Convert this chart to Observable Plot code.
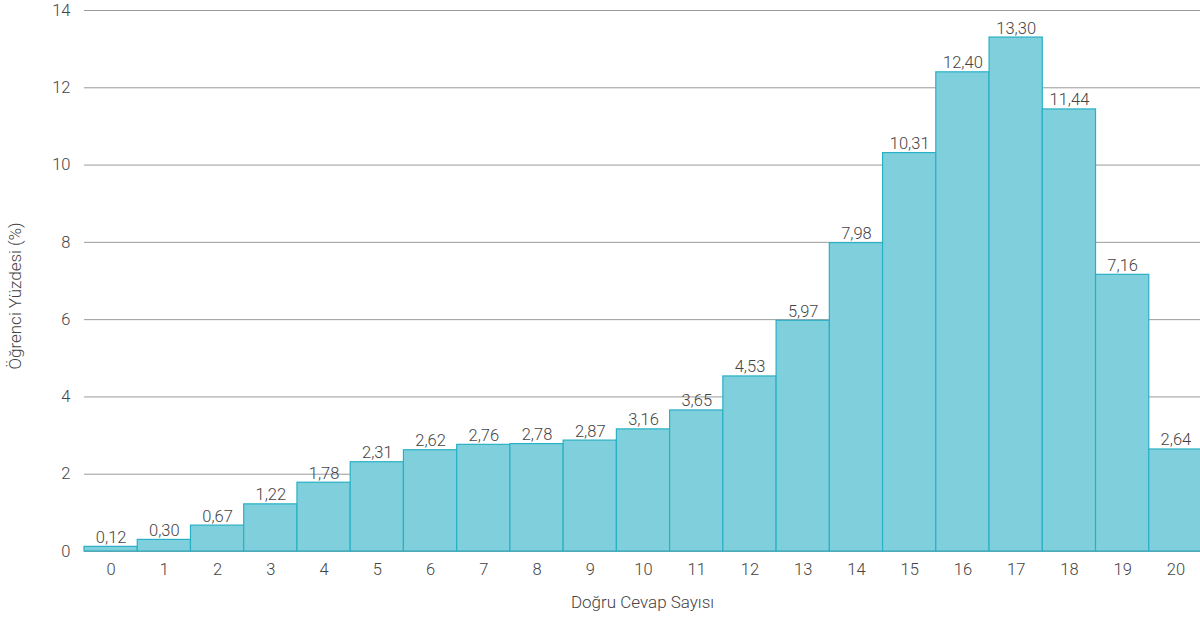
<!DOCTYPE html>
<html>
<head>
<meta charset="utf-8">
<script src="https://cdn.jsdelivr.net/npm/d3@7"></script>
<script src="https://cdn.jsdelivr.net/npm/@observablehq/plot@0.6"></script>
<style>
  html, body { margin: 0; padding: 0; background: white; overflow: hidden; }
</style>
</head>
<body>
<div id="chart"></div>
<script>
const categories = ["0","1","2","3","4","5","6","7","8","9","10","11","12","13","14","15","16","17","18","19","20"];
const values = [0.12, 0.30, 0.67, 1.22, 1.78, 2.31, 2.62, 2.76, 2.78, 2.87, 3.16, 3.65, 4.53, 5.97, 7.98, 10.31, 12.40, 13.30, 11.44, 7.16, 2.64];
const yTicks = [0, 2, 4, 6, 8, 10, 12, 14];
const xLabel = "Doğru Cevap Sayısı";
const yLabel = "Öğrenci Yüzdesi (%)";

const data = categories.map((c, i) => ({c, v: values[i]}));
const fmt = v => v.toFixed(2).replace(".", ",");

const chart = Plot.plot({
  width: 1200,
  height: 624,
  marginTop: 10,
  marginBottom: 73,
  marginLeft: 84,
  marginRight: 0,
  style: {fontFamily: "Roboto, sans-serif", fontSize: "16px", fontWeight: 300, color: "#444", background: "white", overflow: "hidden"},
  x: {type: "band", domain: categories, range: [84, 1202], padding: 0, round: false, label: null},
  y: {domain: [0, 14], label: null},
  marks: [
    Plot.gridY(yTicks, {stroke: "#9a9a9a", strokeOpacity: 1, strokeWidth: 1}),
    Plot.barY(data, {x: "c", y: "v", fill: "#7fd0dc", stroke: "#2ab0c5", strokeWidth: 1.2}),
    Plot.text(data, {x: "c", y: "v", text: d => fmt(d.v), lineAnchor: "bottom", dy: -4, fontSize: 16.5, fill: "#444"}),
    Plot.axisY(yTicks, {tickSize: 0, tickPadding: 14, fontSize: 16.5, fill: "#444", label: null}),
    Plot.axisX({tickSize: 0, tickPadding: 12, fontSize: 16.5, fill: "#444", label: null}),
    Plot.text([xLabel], {frameAnchor: "bottom", dy: 56, fontSize: 17, fill: "#444"}),
    Plot.text([yLabel], {frameAnchor: "left", textAnchor: "middle", rotate: -90, dx: -69, dy: 15, fontSize: 17, fill: "#444"})
  ]
});
document.getElementById("chart").append(chart);
</script>
</body>
</html>
